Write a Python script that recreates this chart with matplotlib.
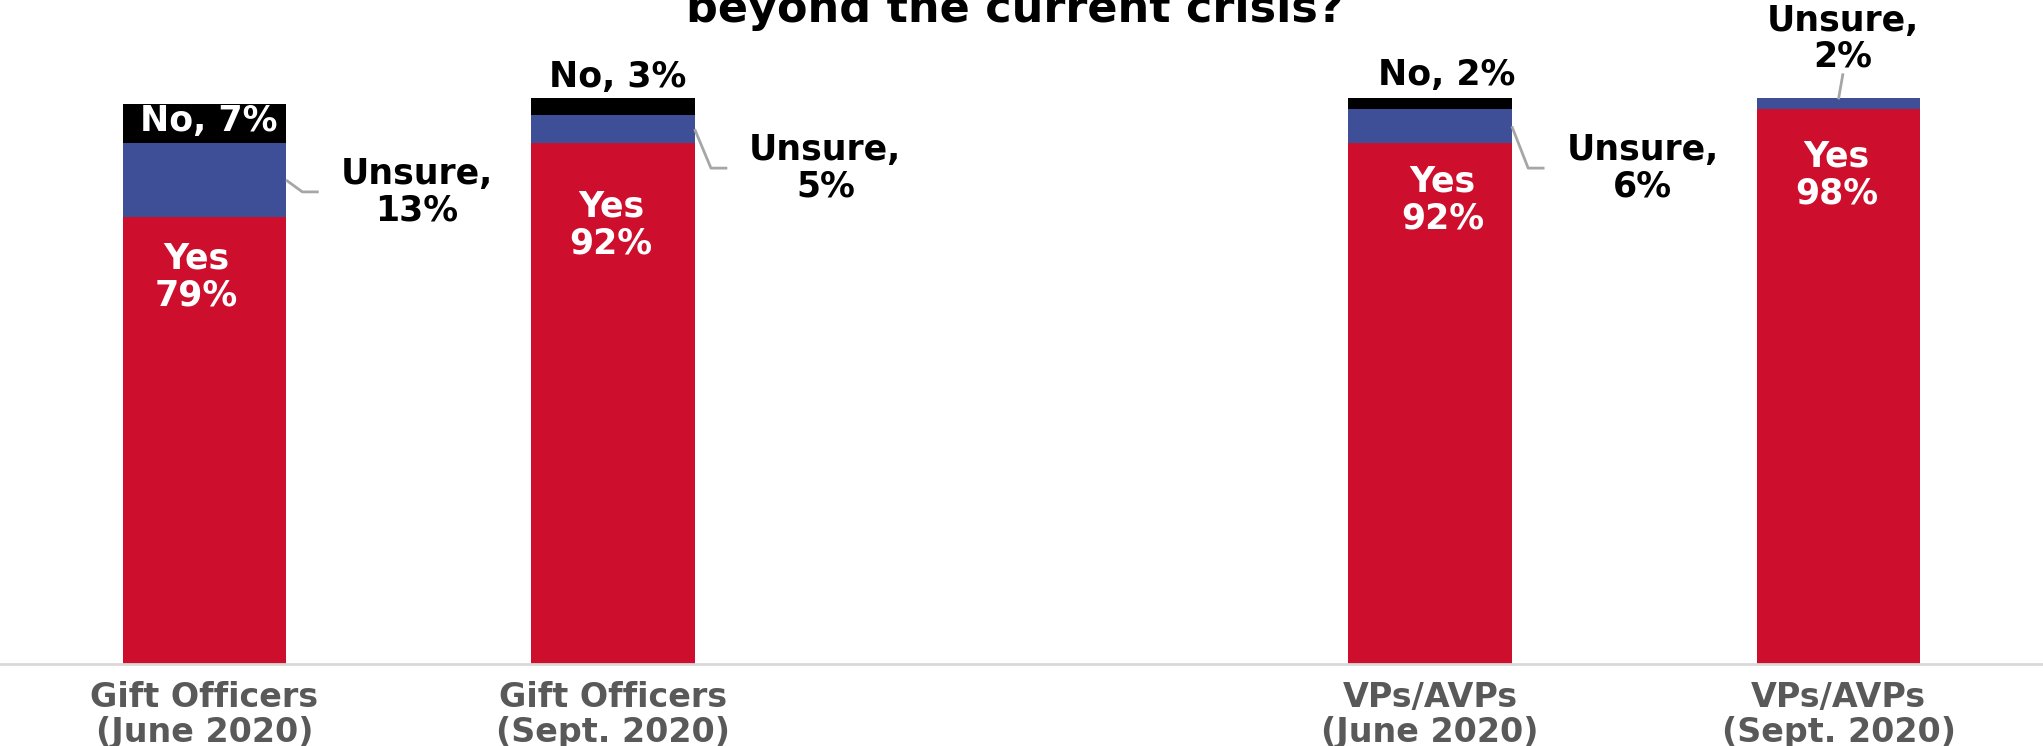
import matplotlib.pyplot as plt

# survey answers, one stacked bar per group
groups = ["Gift Officers\n(June 2020)", "Gift Officers\n(Sept. 2020)",
          "VPs/AVPs\n(June 2020)", "VPs/AVPs\n(Sept. 2020)"]
yes = [79, 92, 92, 98]
unsure = [13, 5, 6, 2]
no = [7, 3, 2, 0]

# bar slots: an empty slot separates gift officers from VPs
slots = [0, 1, 3, 4]

RED = "#CE0E2D"
BLUE = "#3E4F97"
BLACK = "#000000"
TICK_GRAY = "#595959"
LEADER = "#A6A6A6"
BAR_W = 0.4

plt.rcParams["font.family"] = "DejaVu Sans"
plt.rcParams["font.weight"] = "bold"

fig = plt.figure(figsize=(20.43, 7.46), dpi=100)
ax = fig.add_axes([0, 82 / 746, 1, 664 / 746])
ax.set_xlim(-0.5, 4.5)
ax.set_ylim(0, 117.3)

bottom_unsure = [y for y in yes]
bottom_no = [y + u for y, u in zip(yes, unsure)]
ax.bar(slots, yes, width=BAR_W, color=RED, zorder=2)
ax.bar(slots, unsure, width=BAR_W, bottom=bottom_unsure, color=BLUE, zorder=2)
ax.bar(slots, no, width=BAR_W, bottom=bottom_no, color=BLACK, zorder=2)

for side in ["top", "left", "right"]:
    ax.spines[side].set_visible(False)
ax.spines["bottom"].set_color("#D9D9D9")
ax.spines["bottom"].set_linewidth(2)
ax.set_yticks([])
ax.set_xticks(slots, groups)
ax.tick_params(axis="x", length=0, pad=12)
for lbl in ax.get_xticklabels():
    lbl.set_fontsize(24)
    lbl.set_color(TICK_GRAY)
    lbl.set_fontweight("bold")
    lbl.set_linespacing(1.1)

LBL_SIZE = 25

# "Yes" labels inside the red segments
yes_nudge = [-0.02, -0.005, 0.03, -0.005]
yes_drop = [15.6, 19.4, 15.0, 16.6]
for x, v, dx, dy in zip(slots, yes, yes_nudge, yes_drop):
    ax.text(x + dx, v - dy, f"Yes\n{v}%", ha="center", va="baseline",
            color="white", fontsize=LBL_SIZE, linespacing=1.1, zorder=3)

# "No" labels: inside the first bar, above the others
ax.text(slots[0] + 0.01, 94.2, f"No, {no[0]}%", ha="center", va="baseline",
        color="white", fontsize=LBL_SIZE, zorder=3)
ax.text(slots[1] + 0.012, 101.9, f"No, {no[1]}%", ha="center", va="baseline",
        color="black", fontsize=LBL_SIZE, zorder=3)
ax.text(slots[2] + 0.04, 102.3, f"No, {no[2]}%", ha="center", va="baseline",
        color="black", fontsize=LBL_SIZE, zorder=3)

# "Unsure" labels with elbow leader lines to the right of the bars
elbow_drop = [2.1, 6.9, 7.4]
for i in range(3):
    x0 = slots[i] + BAR_W / 2
    y0 = yes[i] + unsure[i] / 2
    y1 = y0 - elbow_drop[i]
    ax.plot([x0, x0 + 0.04, x0 + 0.08], [y0, y1, y1], color=LEADER,
            lw=2, zorder=3, solid_capstyle="butt")
    ax.text(x0 + 0.32, y1 - 5.0, f"Unsure,\n{unsure[i]}%", ha="center",
            va="baseline", color="black", fontsize=LBL_SIZE, linespacing=1.1)

# last bar: label sits above, leader goes straight up
x4 = slots[3]
ax.plot([x4, x4 + 0.01], [yes[3] + unsure[3], 104.1], color=LEADER, lw=2,
        zorder=3)
ax.text(x4 + 0.01, 105.6, f"Unsure,\n{unsure[3]}%", ha="center", va="baseline",
        color="black", fontsize=LBL_SIZE, linespacing=1.05, clip_on=False)

fig.text(0.497, 1 - 22 / 746, "beyond the current crisis?", ha="center",
         va="baseline", fontsize=32, fontweight="bold", color="black")

fig.savefig("out.png", dpi=100, facecolor="white")
